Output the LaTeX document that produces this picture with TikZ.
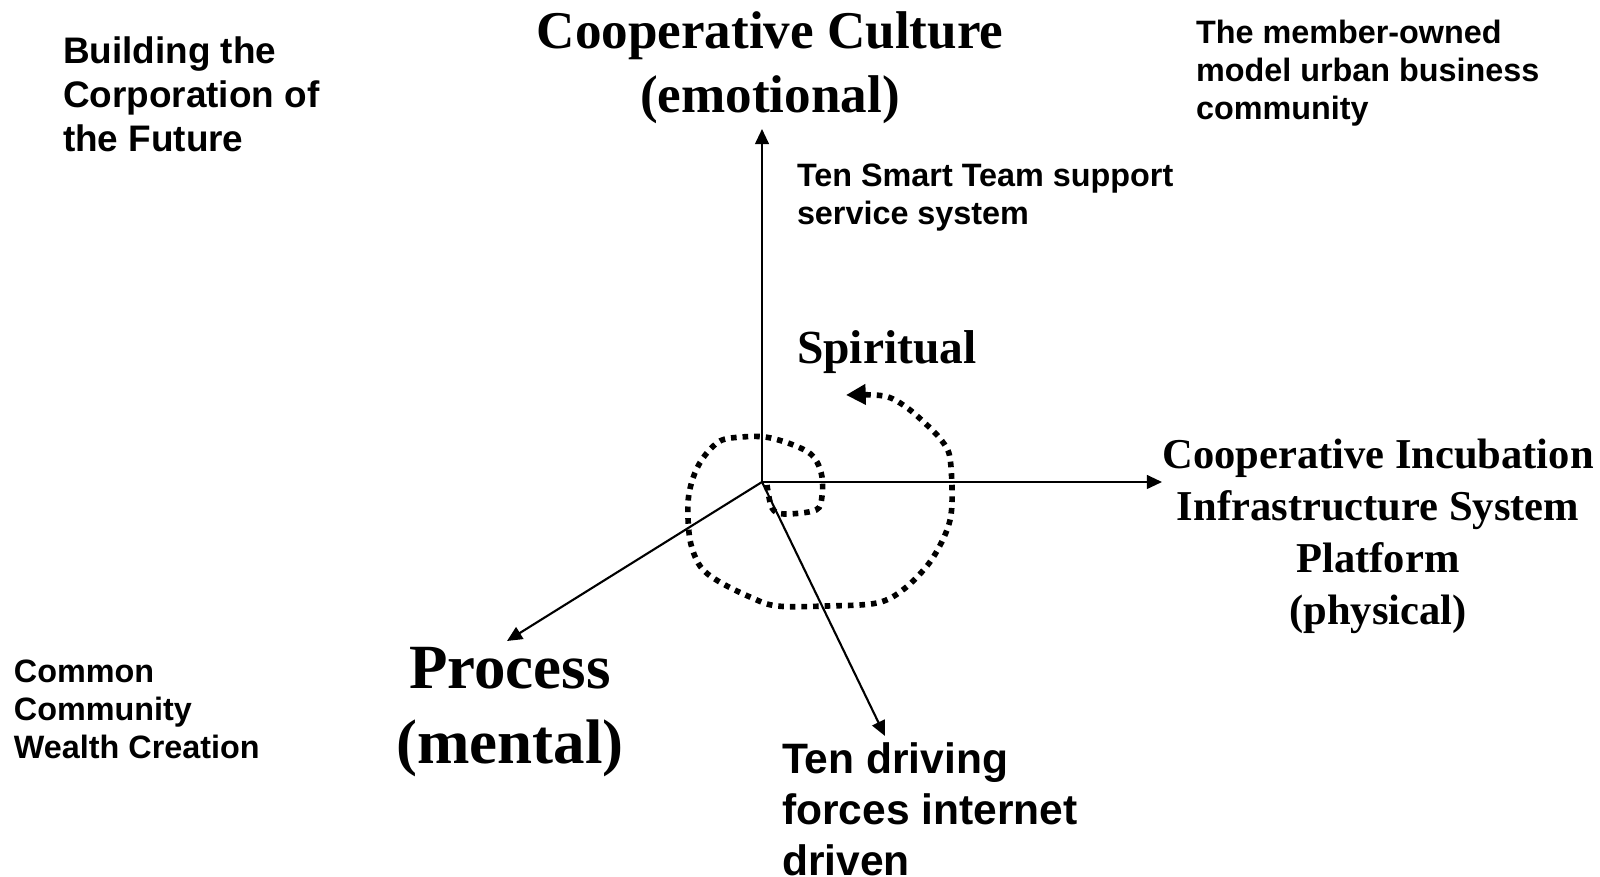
\documentclass[tikz,border=0pt]{standalone}
\usepackage{fontspec}
\usepackage{tikz}
\usetikzlibrary{arrows.meta}
\newfontfamily\arialfont{Liberation Sans}
\newfontfamily\timesfont{Liberation Serif}

\begin{document}
\begin{tikzpicture}[
		x=0.01cm, y=-0.01cm,
		every node/.style={inner sep=0pt, outer sep=0pt},
		sanssmall/.style={align=left, font=\arialfont\bfseries\fontsize{9.2}{10.8}\selectfont},
		sansmid/.style={align=left, font=\arialfont\bfseries\fontsize{10.5}{12.5}\selectfont},
		sanslarge/.style={align=left, font=\arialfont\bfseries\fontsize{12.1}{14.5}\selectfont},
		serifsmall/.style={align=center, font=\timesfont\bfseries\fontsize{12.1}{14.8}\selectfont},
		serifmid/.style={align=center, font=\timesfont\bfseries\fontsize{13.5}{16}\selectfont},
		serifbig/.style={align=center, font=\timesfont\bfseries\fontsize{15.1}{18.2}\selectfont},
		serifhuge/.style={align=center, font=\timesfont\bfseries\fontsize{17.9}{21.3}\selectfont},
		axis/.style={line width=0.6pt, -{Triangle[length=4.3pt, width=3.9pt]}},
		spiral/.style={line width=1.6pt, dash pattern=on 1.6pt off 1.7pt,
			-{Triangle[length=5.6pt, width=5.6pt]}}
	]
  \path [use as bounding box, fill=white] (0,0) rectangle (1600,877);

  % texts
  \node (build) [sansmid, anchor=north west] at (63,37) {Building the\\Corporation of\\the Future};
  \node (culture) [serifbig, anchor=north] at (770,12) {Cooperative Culture\\(emotional)};
  \node (member) [sanssmall, anchor=north west] at (1196,20) {The member-owned\\model urban business\\community};
  \node (smart) [sanssmall, anchor=north west] at (797,164) {Ten Smart Team support\\service system};
  \node (spirit) [serifmid, anchor=north west] at (797,331) {Spiritual};
  \node (incub) [serifsmall, anchor=north] at (1378,439) {Cooperative Incubation\\Infrastructure System\\Platform\\(physical)};
  \node (common) [sanssmall, anchor=north west] at (14,660) {Common\\Community\\Wealth Creation};
  \node (process) [serifhuge, anchor=north] at (510,647) {Process\\(mental)};
  \node (driving) [sanslarge, anchor=north west] at (782,743) {Ten driving\\forces internet\\driven};

  % axes
  \coordinate (O) at (762,482);
  \coordinate (up) at (762,129);
  \coordinate (right) at (1162,482);
  \coordinate (proc) at (507,641);
  \coordinate (drive) at (885,736);
  \draw [axis] (O) -- (up);
  \draw [axis] (O) -- (right);
  \draw [axis] (O) -- (proc);
  \draw [axis] (O) -- (drive);

  % spiral
  \draw [spiral] plot [smooth, tension=0.55] coordinates {
    (767,485) (772,508) (784,514) (816,510) (822,496) (822,477) (817,462)
    (808,452) (788,443) (765,437) (742,437) (720,441) (703,458) (693,478)
    (688,503) (690,540) (700,566) (718,581) (750,597) (777,606) (827,606)
    (877,603) (904,589) (930,562) (947,530) (952,503) (950,458) (942,441)
    (928,426) (906,407) (884,396) (846,395)};
\end{tikzpicture}
\end{document}
